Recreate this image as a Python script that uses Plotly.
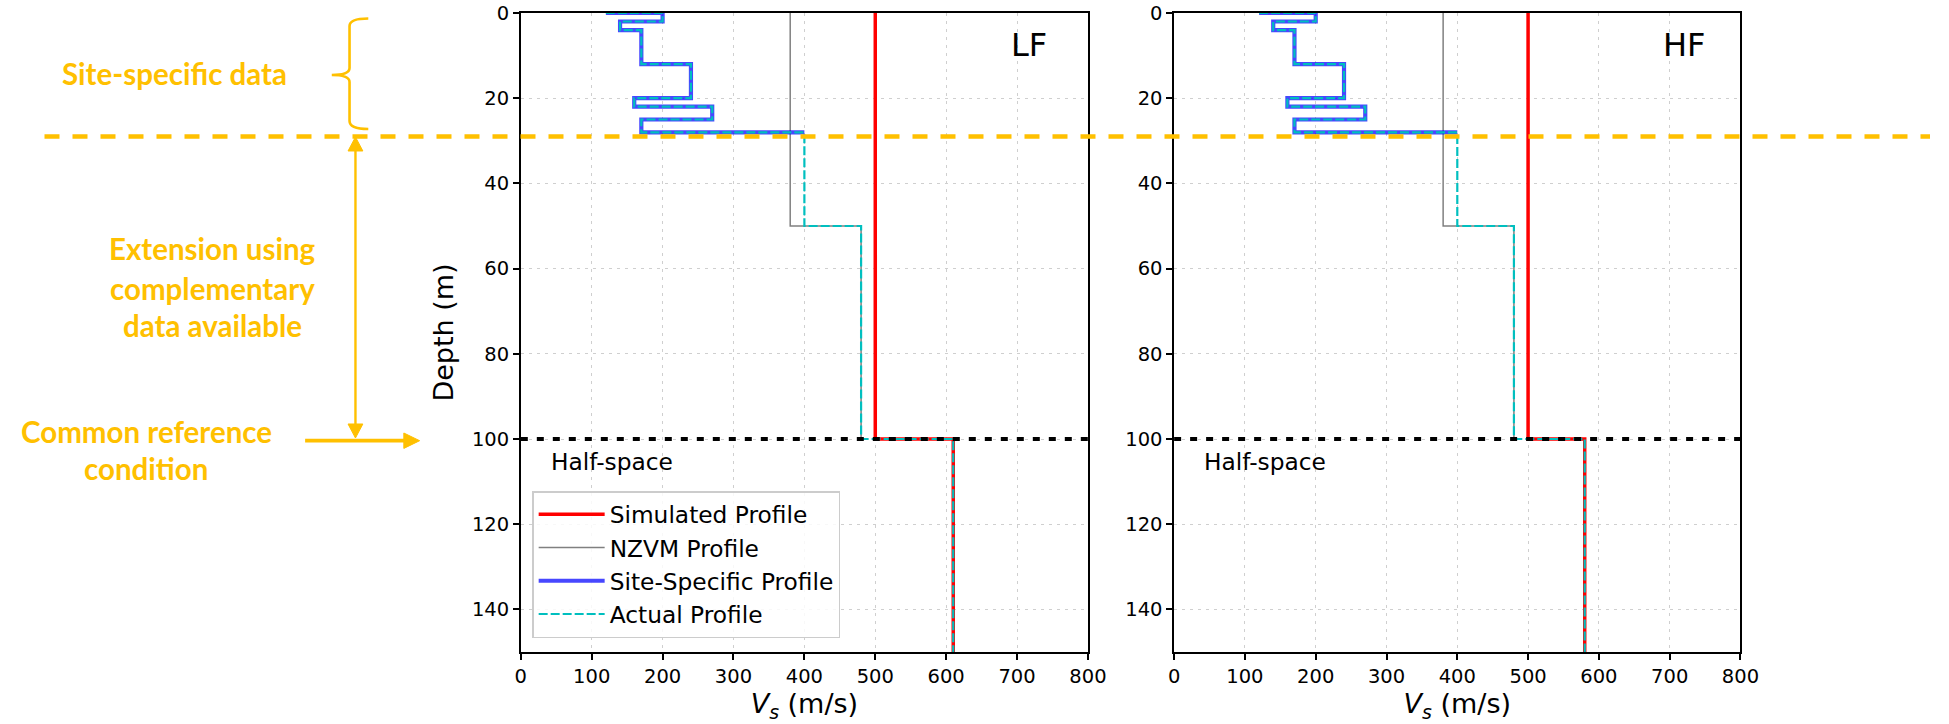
import plotly.graph_objects as go

W, H = 1949, 724
MT, MB = 13, 72

# ---------------- data ----------------
SITE_TOPS = [0, 0, 2, 4, 12, 20, 22, 25]          # layer tops (m)
SITE_VS = [120, 200, 140, 170, 240, 160, 270, 170]  # Vs (m/s)
SITE_BOTTOM = 28
EXT_TOPS = [28, 50]
EXT_VS = [400, 480]
HALFSPACE_TOP = 100
HALFSPACE_VS = {"LF": 610, "HF": 580}
SIM_TOPS = [0, 100]
SIM_VS = {"LF": [500, 610], "HF": [500, 580]}
NZVM_TOPS = [0, 50]
NZVM_VS = [380, 480]
NZVM_BOTTOM = 100
MAX_DEPTH = 150
SITE_DATA_LIMIT = 29
PANELS = ["LF", "HF"]
X_TICKS = [0, 100, 200, 300, 400, 500, 600, 700, 800]
Y_TICKS = [0, 20, 40, 60, 80, 100, 120, 140]

ORANGE = "#FFC000"
CYAN = "#00BFBF"


def step(tops, vs, bottom):
    xs, ys = [], []
    bots = list(tops[1:]) + [bottom]
    for t, b, v in zip(tops, bots, vs):
        xs += [v, v]
        ys += [t, b]
    return xs, ys


def PX(x):
    return x / W


def PY(y):
    return (H - MB - y) / (H - MT - MB)


def Pxy(x, y):
    return f"{PX(x):.6f},{PY(y):.6f}"


fig = go.Figure()

for i, p in enumerate(PANELS):
    xa = "x" if i == 0 else "x2"
    ya = "y" if i == 0 else "y2"
    show = i == 0
    sx, sy = step(SIM_TOPS, SIM_VS[p], MAX_DEPTH)
    nx, ny = step(NZVM_TOPS, NZVM_VS, NZVM_BOTTOM)
    ax_, ay_ = step(SITE_TOPS + EXT_TOPS + [HALFSPACE_TOP],
                    SITE_VS + EXT_VS + [HALFSPACE_VS[p]], MAX_DEPTH)
    k = max(j for j, d in enumerate(ay_) if d <= SITE_BOTTOM)
    bx, by = ax_[:k + 1], ay_[:k + 1]

    fig.add_trace(go.Scatter(x=sx, y=sy, mode="lines", name="Simulated Profile",
                             line=dict(color="#FF0000", width=3.5), xaxis=xa, yaxis=ya,
                             showlegend=show, legendgroup="a"))
    fig.add_trace(go.Scatter(x=nx, y=ny, mode="lines", name="NZVM Profile",
                             line=dict(color="#808080", width=1.5), xaxis=xa, yaxis=ya,
                             showlegend=show, legendgroup="b"))
    fig.add_trace(go.Scatter(x=bx, y=by, mode="lines", name="Site-Specific Profile",
                             line=dict(color="rgba(0,0,255,0.72)", width=4.2), xaxis=xa, yaxis=ya,
                             showlegend=show, legendgroup="c"))
    fig.add_trace(go.Scatter(x=ax_, y=ay_, mode="lines", name="Actual Profile",
                             line=dict(color=CYAN, width=2.2, dash="9px,3px"), xaxis=xa, yaxis=ya,
                             showlegend=show, legendgroup="d"))

axis_common = dict(showline=True, mirror=True, linecolor="black", linewidth=1.5,
                   ticks="outside", ticklen=6, tickwidth=1.5, tickcolor="black",
                   showgrid=True, gridcolor="#cfcfcf", gridwidth=1, griddash="3px,5px",
                   zeroline=False,
                   tickfont=dict(family="DejaVu Sans", size=19.5, color="black"))

xtitle = dict(text="<i>V</i><sub><i>s</i></sub> (m/s)",
              font=dict(family="DejaVu Sans", size=27, color="black"), standoff=3)

fig.update_layout(
    width=W, height=H,
    margin=dict(l=0, r=0, t=MT, b=MB),
    paper_bgcolor="white", plot_bgcolor="white",
    xaxis=dict(domain=[521.5 / W, 1096 / W], range=[0, 800], tickvals=X_TICKS,
               title=xtitle, anchor="y", **axis_common),
    yaxis=dict(range=[MAX_DEPTH, 0], tickvals=Y_TICKS, anchor="x",
               title=dict(text="Depth (m)", font=dict(family="DejaVu Sans", size=27, color="black"),
                          standoff=10), **axis_common),
    xaxis2=dict(domain=[1183.3 / W, 1757 / W], range=[0, 800], tickvals=X_TICKS,
                title=xtitle, anchor="y2", **axis_common),
    yaxis2=dict(range=[MAX_DEPTH, 0], tickvals=Y_TICKS, anchor="x2", **axis_common),
    legend=dict(x=PX(533), y=PY(491), xanchor="left", yanchor="top",
                bgcolor="rgba(255,255,255,0.85)", bordercolor="#cccccc", borderwidth=1.5,
                font=dict(family="DejaVu Sans", size=23.3, color="black"),
                tracegroupgap=0, itemwidth=66),
    showlegend=True,
)

shapes = []
annotations = []
for i, p in enumerate(PANELS):
    xa = "x" if i == 0 else "x2"
    ya = "y" if i == 0 else "y2"
    shapes.append(dict(type="line", xref=f"{xa} domain", yref=ya, x0=0, x1=1,
                       y0=HALFSPACE_TOP, y1=HALFSPACE_TOP,
                       line=dict(color="black", width=4, dash="7px,9px"), layer="above"))
    annotations.append(dict(text=p, xref=xa, yref=ya, x=688, y=7.5, xanchor="left", yanchor="middle",
                            showarrow=False, font=dict(family="DejaVu Sans", size=32, color="black")))
    annotations.append(dict(text="Half-space", xref=xa, yref=ya, x=40, y=105.3, xanchor="left",
                            yanchor="middle", showarrow=False,
                            font=dict(family="DejaVu Sans", size=23.3, color="black")))

# orange overlay: dashed line at site-data limit
shapes.append(dict(type="line", xref="paper", yref="y", x0=PX(39), x1=1,
                   y0=SITE_DATA_LIMIT, y1=SITE_DATA_LIMIT,
                   line=dict(color=ORANGE, width=4.5, dash="15px,13px"), layer="above"))

# curly brace
brace = (f"M{Pxy(367, 18.5)} Q{Pxy(348, 18.5)} {Pxy(348, 26)} L{Pxy(348, 68)} "
         f"Q{Pxy(348, 75)} {Pxy(330, 75)} Q{Pxy(348, 75)} {Pxy(348, 82)} "
         f"L{Pxy(348, 121)} Q{Pxy(348, 129)} {Pxy(367, 129)}")
shapes.append(dict(type="path", xref="paper", yref="paper", path=brace,
                   line=dict(color=ORANGE, width=2.6), layer="above"))

# double-headed vertical arrow (line + two filled heads)
shapes.append(dict(type="line", xref="paper", yref="paper", x0=PX(354), x1=PX(354),
                   y0=PY(148), y1=PY(427), line=dict(color=ORANGE, width=2.4), layer="above"))
shapes.append(dict(type="path", xref="paper", yref="paper",
                   path=f"M{Pxy(354, 137)} L{Pxy(346.5, 151)} L{Pxy(361.5, 151)} Z",
                   fillcolor=ORANGE, line=dict(color=ORANGE, width=1), layer="above"))
shapes.append(dict(type="path", xref="paper", yref="paper",
                   path=f"M{Pxy(354, 438)} L{Pxy(346.5, 424)} L{Pxy(361.5, 424)} Z",
                   fillcolor=ORANGE, line=dict(color=ORANGE, width=1), layer="above"))
# horizontal arrow to the reference condition
shapes.append(dict(type="line", xref="paper", yref="paper", x0=PX(303), x1=PX(406),
                   y0=PY(440.7), y1=PY(440.7), line=dict(color=ORANGE, width=3.8), layer="above"))
shapes.append(dict(type="path", xref="paper", yref="paper",
                   path=f"M{Pxy(419, 440.7)} L{Pxy(403, 433)} L{Pxy(403, 448.4)} Z",
                   fillcolor=ORANGE, line=dict(color=ORANGE, width=1), layer="above"))

font_o = dict(family="Lato", size=29.5, color=ORANGE)
labels = [
    ("<b>Site-specific data</b>", 170.5, 73),
    ("<b>Extension using</b>", 209.5, 248),
    ("<b>complementary</b>", 209.5, 288),
    ("<b>data available</b>", 209.5, 325),
    ("<b>Common reference</b>", 142, 431),
    ("<b>condition</b>", 142, 468),
]
for t, x, y in labels:
    annotations.append(dict(text=t, xref="paper", yref="paper", x=PX(x), y=PY(y),
                            xanchor="center", yanchor="middle", showarrow=False, font=font_o))

fig.update_layout(shapes=shapes, annotations=annotations)
fig.write_html(
    "out.html",
    config={"displayModeBar": False},
    post_script="document.body.style.margin='0px';document.body.style.overflow='hidden';",
)
